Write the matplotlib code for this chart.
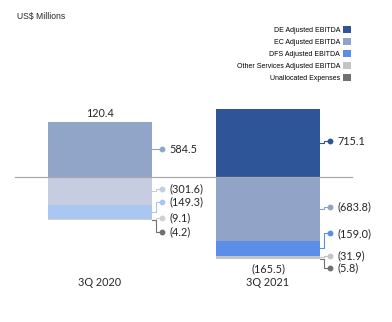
import matplotlib
matplotlib.use('Agg')
import matplotlib.pyplot as plt
from matplotlib.patches import Patch

# data (US$ millions)
categories = ['3Q 2020', '3Q 2021']
segments = ['DE Adjusted EBITDA', 'EC Adjusted EBITDA', 'DFS Adjusted EBITDA',
            'Other Services Adjusted EBITDA', 'Unallocated Expenses']
values_2020 = [-301.6, 584.5, -149.3, -9.1, -4.2]
values_2021 = [715.1, -683.8, -159.0, -31.9, -5.8]
totals = [120.4, -165.5]

# styles
colors = ['#2d5597', '#91a3c6', '#5a8ee8', '#c4c4c4', '#707070']
colors_2020 = ['#c6cde0', '#91a5c9', '#aac6f3', '#d0d0d0', '#707070']
# label nudges in pixels (down = positive) so labels don't collide
nudge_2020 = [-2, 0, -10, -1.5, 12]
nudge_2021 = [-2, -2, -15, -1.5, 9]

W, H = 392, 322
px_per_unit = 0.094
zero_px = 176.7
dx = 1 / 168.0
dy = 1 / px_per_unit
width = 104 * dx

value_font = 'Lato'
plain_font = 'Liberation Sans'
text_color = '#262626'

fig = plt.figure(figsize=(W / 100, H / 100), dpi=100)
ax = fig.add_axes([0, 0, 1, 1])
ax.axis('off')
ax.set_xlim(-100 * dx, (W - 100) * dx)
ax.set_ylim(-(H - zero_px) * dy, zero_px * dy)

ax.axhline(0, xmin=15 / W, xmax=352 / W, color='#a8a8a8', lw=0.9, zorder=3)


def fmt(v):
    return '%.1f' % v if v >= 0 else '(%.1f)' % -v


for i, (vals, cols, nudges) in enumerate([(values_2020, colors_2020, nudge_2020),
                                          (values_2021, colors, nudge_2021)]):
    pos_base = 0
    neg_base = 0
    edge = i + width / 2
    ex = edge + 4 * dx
    dot_x = edge + 10 * dx
    for v, c, n in zip(vals, cols, nudges):
        if v >= 0:
            bottom = pos_base
            pos_base += v
        else:
            bottom = neg_base
            neg_base += v
        ax.bar(i, v, bottom=bottom, width=width, color=c, lw=0, zorder=2)
        mid = bottom + v / 2
        ly = mid - n * dy
        ax.plot([edge, ex, ex, dot_x], [mid, mid, ly, ly], color=c, lw=0.8, zorder=2)
        ax.plot(dot_x, ly, 'o', ms=3.2, color=c, zorder=4)
        ax.text(dot_x + 7 * dx, ly, fmt(v), va='center', ha='left',
                fontsize=7.8, family=value_font, color=text_color)
    if totals[i] >= 0:
        ax.annotate(fmt(totals[i]), (i, pos_base), xytext=(0, 8), textcoords='offset pixels',
                    ha='center', va='center', fontsize=7.8, family=value_font, color=text_color)
    else:
        ax.annotate(fmt(totals[i]), (i, neg_base), xytext=(0, -9), textcoords='offset pixels',
                    ha='center', va='center', fontsize=7.8, family=value_font, color=text_color)
    ax.text(i, 1 - 283 / H, categories[i], transform=ax.get_xaxis_transform(),
            ha='center', va='center', fontsize=7.8, family=value_font, color=text_color)

fig.text(17 / W, 1 - 17 / H, 'US$ Millions', ha='left', va='center',
         fontsize=6.2, family=plain_font, color=text_color)

handles = [Patch(facecolor=c, edgecolor='none') for c in colors]
ax.legend(handles, segments, loc='upper right', bbox_to_anchor=(351 / W, 1 - 26.5 / H),
          bbox_transform=fig.transFigure, markerfirst=False, frameon=False,
          prop={'family': plain_font, 'size': 5}, handlelength=1.15, handleheight=1.15,
          labelspacing=0.58, handletextpad=0.4, borderpad=0, borderaxespad=0)

fig.savefig('out.png', dpi=100)
plt.close('all')
